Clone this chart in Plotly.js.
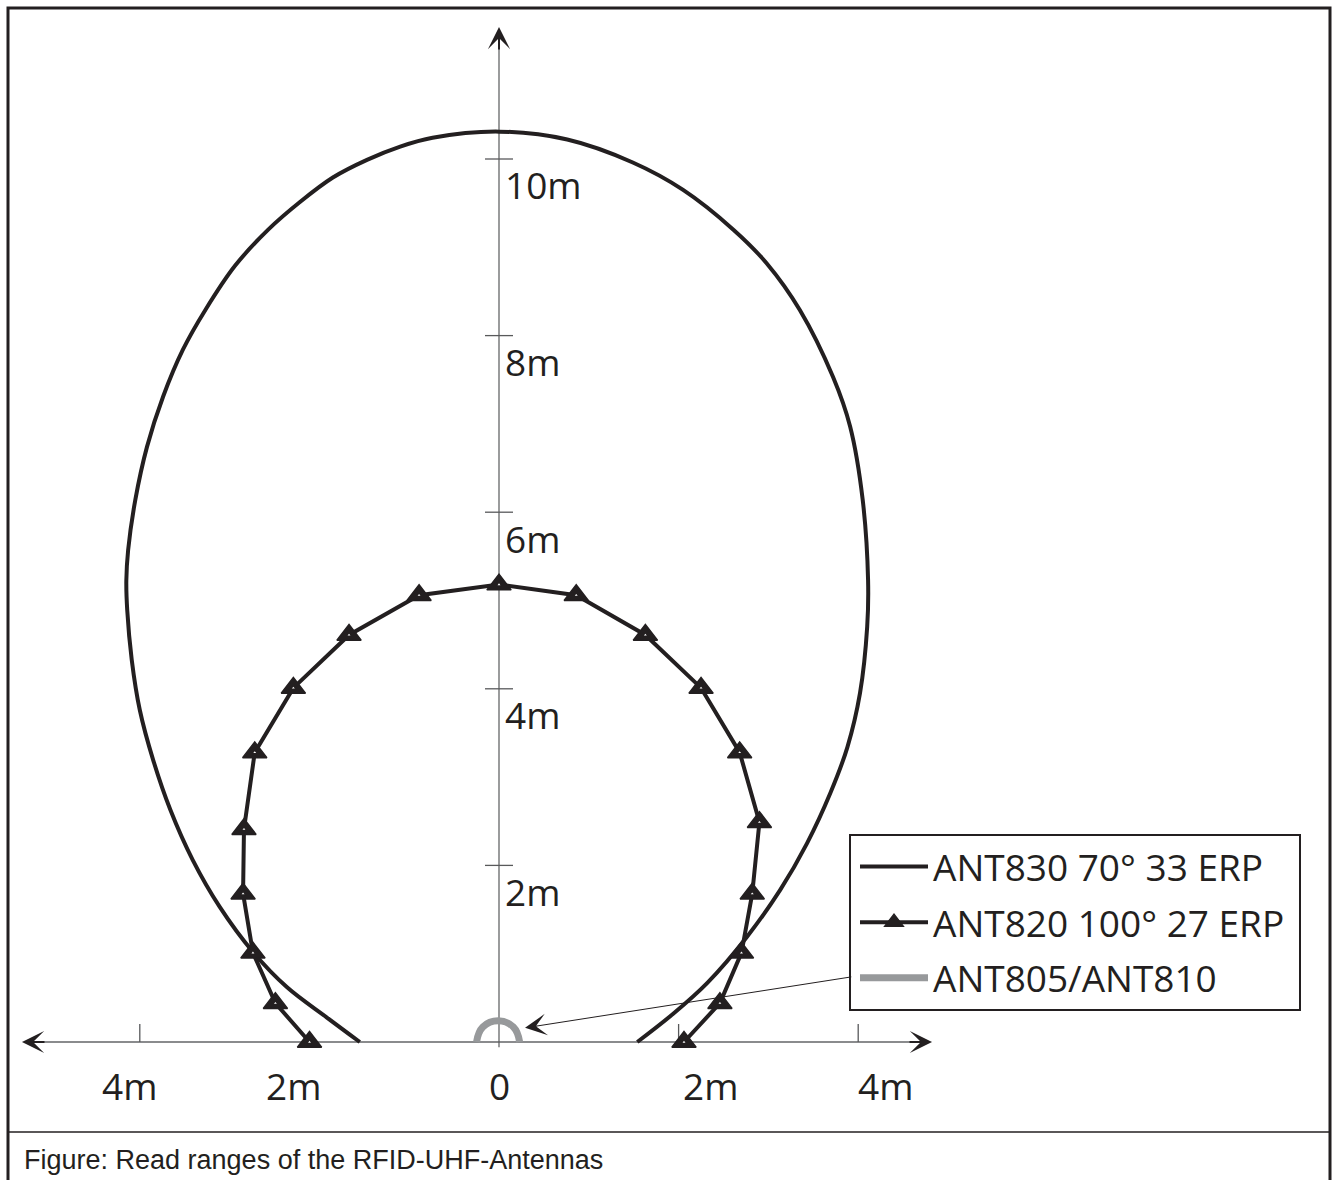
<!DOCTYPE html>
<html>
<head>
<meta charset="utf-8">
<script src="https://cdn.plot.ly/plotly-3.0.1.min.js"></script>
<style>
html,body{margin:0;padding:0;background:#fff;}
#chart{width:1335px;height:1180px;}
</style>
</head>
<body>
<div id="chart"></div>
<script>
// ---- Data (metres) ----
// ANT830 70° 33 ERP read-range contour
const ant830X = [-1.55,-1.92,-2.36,-2.74,-3.11,-3.41,-3.66,-3.85,-4.00,-4.09,-4.14,-4.15,-4.13,-4.05,-3.92,-3.74,-3.52,-3.27,-2.94,-2.57,-2.22,-1.85,-1.47,-1.10,-0.74,0.00,0.76,1.49,2.05,2.61,2.98,3.35,3.72,3.91,4.05,4.11,4.10,4.02,3.88,3.69,3.43,3.13,2.76,2.32,1.94,1.54];
const ant830Y = [0.00,0.28,0.62,1.02,1.53,2.06,2.63,3.19,3.76,4.33,4.89,5.23,5.57,6.14,6.74,7.31,7.84,8.29,8.79,9.20,9.51,9.79,9.99,10.14,10.24,10.31,10.22,9.96,9.65,9.20,8.82,8.29,7.53,6.97,6.14,5.23,4.70,3.95,3.34,2.82,2.25,1.72,1.19,0.67,0.32,0.00];
// ANT820 100° 27 ERP read-range contour (measured points)
const ant820X = [-2.11,-2.49,-2.74,-2.85,-2.84,-2.72,-2.29,-1.67,-0.89,0.00,0.86,1.63,2.25,2.68,2.90,2.82,2.70,2.46,2.06];
const ant820Y = [0.00,0.44,1.01,1.68,2.41,3.28,4.01,4.61,5.06,5.18,5.06,4.61,4.01,3.28,2.49,1.68,1.01,0.44,0.00];
// ANT805/ANT810 read-range contour
const ant805X = [-0.25,-0.18,-0.01,0.16,0.23];
const ant805Y = [0.00,0.17,0.24,0.17,0.00];

const seriesNames = ["ANT830 70° 33 ERP", "ANT820 100° 27 ERP", "ANT805/ANT810"];

// Axis ticks and labels
const xTickVals = [-4, 2, 4];
const yTickVals = [2, 4, 6, 8, 10];
const xLabelText = ["4m", "2m", "0", "2m", "4m"];
const xLabelPos = [-4.11, -2.29, 0.0, 2.35, 4.30];
const yLabelText = ["2m", "4m", "6m", "8m", "10m"];
const captionText = "Figure: Read ranges of the RFID-UHF-Antennas";

// ---- Layout helpers ----
const W = 1335, H = 1180;
const P = px => px / W;          // pixel x -> paper
const Q = py => 1 - py / H;      // pixel y -> paper
const INK = "#231f20";
const LABEL_FONT = {family: "Open Sans, sans-serif", size: 37, color: INK};

const traces = [
  {x: ant830X, y: ant830Y, name: seriesNames[0], legendgroup: "a", type: "scatter", mode: "lines",
   line: {color: INK, width: 4, shape: "spline", smoothing: 1}, hoverinfo: "skip"},
  {x: ant820X, y: ant820Y, name: seriesNames[1] + "\u00a0", legendgroup: "b", type: "scatter", mode: "lines+markers",
   line: {color: INK, width: 4},
   marker: {symbol: "triangle-up", size: 21, color: INK, line: {color: INK, width: 1.5}}, hoverinfo: "skip"},
  {x: ant805X, y: ant805Y, name: seriesNames[2], legendgroup: "c", type: "scatter", mode: "lines",
   line: {color: "#97999b", width: 7, shape: "spline", smoothing: 1.3}, hoverinfo: "skip"},
  // small white centres of the triangle markers
  {x: ant820X, y: ant820Y, name: seriesNames[1], legendgroup: "b", showlegend: false, type: "scatter", mode: "markers",
   marker: {symbol: "triangle-up", size: 2.5, color: "#ffffff"}, hoverinfo: "skip"}
];

const shapes = [];
// outer frame and caption separator
shapes.push({type: "rect", xref: "paper", yref: "paper", x0: P(8), x1: P(1330), y0: Q(1190), y1: Q(8),
  line: {color: INK, width: 3}, fillcolor: "rgba(0,0,0,0)"});
shapes.push({type: "line", xref: "paper", yref: "paper", x0: P(8), x1: P(1330), y0: Q(1132), y1: Q(1132),
  line: {color: INK, width: 1.5}});
// axes lines
shapes.push({type: "line", xref: "x", yref: "y", x0: -5.2, x1: 4.7, y0: 0, y1: 0, layer: "below",
  line: {color: "#8a8b8d", width: 2}});
shapes.push({type: "line", xref: "x", yref: "y", x0: 0, x1: 0, y0: -0.06, y1: 11.35, layer: "below",
  line: {color: "#58595b", width: 1.2}});
// ticks
yTickVals.forEach(v => shapes.push({type: "line", xref: "x", yref: "y", x0: -0.156, x1: 0.156, y0: v, y1: v,
  layer: "below", line: {color: "#58595b", width: 1.3}}));
xTickVals.forEach(v => shapes.push({type: "line", xref: "x", yref: "y", x0: v, x1: v, y0: 0, y1: 0.204,
  layer: "below", line: {color: "#58595b", width: 1.3}}));

const annotations = [];
// arrow heads of the axes
const head = {text: "", showarrow: true, arrowhead: 3, arrowsize: 1.85, arrowwidth: 2, arrowcolor: INK, standoff: 0, xref: "x", yref: "y"};
annotations.push(Object.assign({}, head, {x: 4.822, y: 0, ax: -24, ay: 0}));
annotations.push(Object.assign({}, head, {x: -5.312, y: 0, ax: 24, ay: 0}));
annotations.push(Object.assign({}, head, {x: 0, y: 11.495, ax: 0, ay: 24}));
// leader arrow from the legend to the small antenna contour
annotations.push({text: "", showarrow: true, arrowhead: 3, arrowsize: 3.6, arrowwidth: 1, arrowcolor: INK, standoff: 0,
  xref: "x", yref: "y", axref: "x", ayref: "y", x: 0.29, y: 0.16, ax: 3.94, ay: 0.74});
// tick labels
xLabelText.forEach((t, i) => annotations.push({text: t, x: xLabelPos[i], y: -0.49, xref: "x", yref: "y",
  showarrow: false, xanchor: "center", yanchor: "middle", font: LABEL_FONT}));
yLabelText.forEach((t, i) => annotations.push({text: t, x: 0.04, y: yTickVals[i] - 0.294, xref: "x", yref: "y",
  showarrow: false, xanchor: "left", yanchor: "middle", font: LABEL_FONT}));
// caption
annotations.push({text: captionText, xref: "paper", yref: "paper", x: P(22), y: Q(1160), xanchor: "left", yanchor: "middle",
  showarrow: false, font: {family: "Liberation Sans, Arial, sans-serif", size: 27, color: INK}});

const layout = {
  width: W, height: H,
  margin: {l: 0, r: 0, t: 0, b: 0, pad: 0},
  paper_bgcolor: "#ffffff", plot_bgcolor: "#ffffff",
  xaxis: {range: [-499 / 89.8, (W - 499) / 89.8], visible: false, fixedrange: true},
  yaxis: {range: [(1042 - H) / 88.3, 1042 / 88.3], visible: false, fixedrange: true},
  showlegend: true,
  legend: {x: P(849), y: Q(834), xanchor: "left", yanchor: "top", bgcolor: "#ffffff",
    bordercolor: INK, borderwidth: 2, itemwidth: 68, indentation: 4, traceorder: "grouped", tracegroupgap: 4.5,
    font: {family: "Open Sans, sans-serif", size: 37, color: INK}},
  shapes: shapes,
  annotations: annotations
};

Plotly.newPlot("chart", traces, layout, {staticPlot: true, displayModeBar: false});
</script>
</body>
</html>
